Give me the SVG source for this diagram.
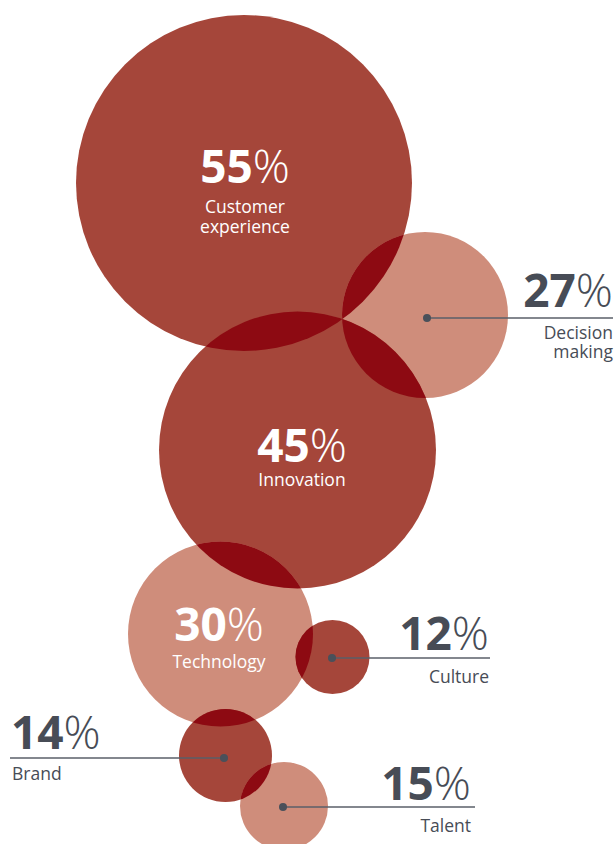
<svg xmlns="http://www.w3.org/2000/svg" width="615" height="844" viewBox="0 0 615 844">
<style>
.dk{fill:#a5463a}
.lt{fill:#cf8d7b}
.ov{fill:#8d0a12}
.num{font-family:"Open Sans","Liberation Sans",sans-serif;font-weight:700;font-size:46px}
.pct{font-weight:300}
.lab{font-family:"Open Sans","Liberation Sans",sans-serif;font-size:17.5px}
.w{fill:#ffffff}
.g{fill:#474c56}
.ln{stroke:#5a5f68;stroke-width:1.5;fill:none}
.dot{fill:#4a505a}
</style>
<defs>
<clipPath id="c55"><circle cx="244" cy="183" r="168"/></clipPath>
<clipPath id="c45"><circle cx="297.5" cy="450" r="138.5"/></clipPath>
<clipPath id="c30"><circle cx="220.5" cy="634" r="92.5"/></clipPath>
<clipPath id="c14"><circle cx="225.5" cy="755.5" r="46.5"/></clipPath>
</defs>
<g id="n55"><circle class="dk" cx="244" cy="183" r="168"/></g>
<g id="n27"><circle class="lt" cx="425" cy="315" r="83"/></g>
<g id="n45"><circle class="dk" cx="297.5" cy="450" r="138.5"/></g>
<g id="n30"><circle class="lt" cx="220.5" cy="634" r="92.5"/></g>
<g id="n12"><circle class="dk" cx="332.5" cy="657" r="37"/></g>
<g id="n14"><circle class="dk" cx="225.5" cy="755.5" r="46.5"/></g>
<g id="n15"><circle class="lt" cx="284" cy="806" r="44"/></g>
<g id="overlaps">
<circle class="ov" cx="425" cy="315" r="83" clip-path="url(#c55)"/>
<circle class="ov" cx="297.5" cy="450" r="138.5" clip-path="url(#c55)"/>
<circle class="ov" cx="425" cy="315" r="83" clip-path="url(#c45)"/>
<circle class="ov" cx="220.5" cy="634" r="92.5" clip-path="url(#c45)"/>
<circle class="ov" cx="332.5" cy="657" r="37" clip-path="url(#c30)"/>
<circle class="ov" cx="225.5" cy="755.5" r="46.5" clip-path="url(#c30)"/>
<circle class="ov" cx="284" cy="806" r="44" clip-path="url(#c14)"/>
</g>
<g id="connectors">
<line class="ln" x1="427" y1="318" x2="613" y2="318"/>
<line class="ln" x1="332" y1="658" x2="490" y2="658"/>
<line class="ln" x1="10" y1="758" x2="224" y2="758"/>
<line class="ln" x1="283" y1="807" x2="475" y2="807"/>
<circle class="dot" cx="427" cy="318" r="4"/>
<circle class="dot" cx="332" cy="658" r="4"/>
<circle class="dot" cx="224" cy="758" r="4"/>
<circle class="dot" cx="283" cy="807" r="4"/>
</g>
<g id="t55">
<text class="num w" x="245" y="183" text-anchor="middle">55<tspan class="pct">%</tspan></text>
<text class="lab w" x="245" y="213" text-anchor="middle">Customer</text>
<text class="lab w" x="245" y="233" text-anchor="middle">experience</text>
</g>
<g id="t27">
<text class="num g" x="613" y="307" text-anchor="end">27<tspan class="pct">%</tspan></text>
<text class="lab g" x="613" y="339" text-anchor="end">Decision</text>
<text class="lab g" x="613" y="358" text-anchor="end">making</text>
</g>
<g id="t45">
<text class="num w" x="302" y="462" text-anchor="middle">45<tspan class="pct">%</tspan></text>
<text class="lab w" x="302" y="486" text-anchor="middle">Innovation</text>
</g>
<g id="t30">
<text class="num w" x="219" y="641" text-anchor="middle">30<tspan class="pct">%</tspan></text>
<text class="lab w" x="219" y="668" text-anchor="middle">Technology</text>
</g>
<g id="t12">
<text class="num g" x="489" y="650" text-anchor="end">12<tspan class="pct">%</tspan></text>
<text class="lab g" x="489" y="683" text-anchor="end">Culture</text>
</g>
<g id="t14">
<text class="num g" x="11" y="749">14<tspan class="pct">%</tspan></text>
<text class="lab g" x="12" y="780">Brand</text>
</g>
<g id="t15">
<text class="num g" x="471" y="800" text-anchor="end">15<tspan class="pct">%</tspan></text>
<text class="lab g" x="471" y="832" text-anchor="end">Talent</text>
</g>
</svg>
